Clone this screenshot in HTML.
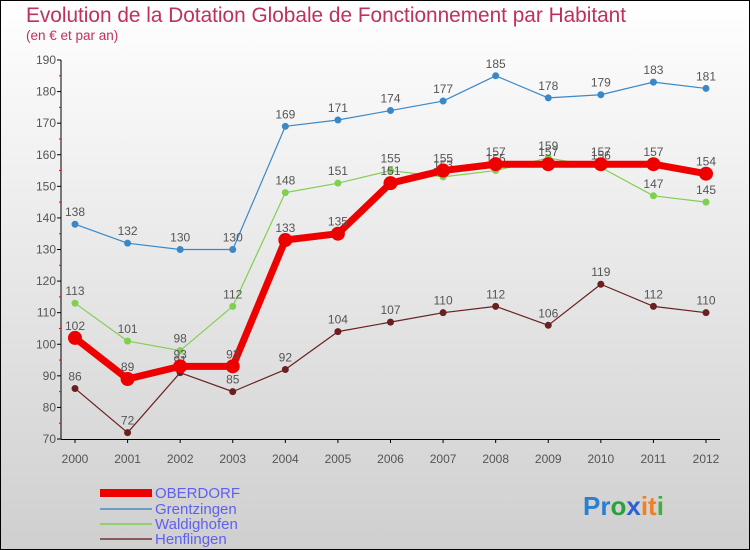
<!DOCTYPE html>
<html><head><meta charset="utf-8"><style>
body{margin:0;width:750px;height:550px;overflow:hidden;font-family:"Liberation Sans",sans-serif}
svg{display:block}
</style></head><body>
<svg id="c" width="750" height="550">
<defs><linearGradient id="bg" x1="0" y1="0" x2="0" y2="1"><stop offset="0" stop-color="#ffffff"/><stop offset="1" stop-color="#cfcfcf"/></linearGradient></defs>
<rect x="0.5" y="0.5" width="749" height="549" fill="url(#bg)" stroke="#000"/>
<text x="26" y="22" font-size="20.8" fill="#c0305a">Evolution de la Dotation Globale de Fonctionnement par Habitant</text>
<text x="26" y="40" font-size="13.5" fill="#c0305a">(en € et par an)</text>
<g id="axes"></g><g id="series"></g>
<g>
<rect x="100" y="489" width="52" height="8" fill="#e00"/>
<text x="155" y="498" font-size="15" fill="#6060ee">OBERDORF</text>
<line x1="100" x2="152" y1="509" y2="509" stroke="#6a9ec8" stroke-width="2"/>
<text x="155" y="514" font-size="15" fill="#6060ee">Grentzingen</text>
<line x1="100" x2="152" y1="524" y2="524" stroke="#90d070" stroke-width="2"/>
<text x="155" y="529" font-size="15" fill="#6060ee">Waldighofen</text>
<line x1="100" x2="152" y1="539" y2="539" stroke="#8a5a5a" stroke-width="2"/>
<text x="155" y="544" font-size="15" fill="#6060ee">Henflingen</text>
</g>
<text x="583" y="515" font-size="26" font-weight="bold"><tspan fill="#2a7fd0">Pr</tspan><tspan fill="#2aa040">o</tspan><tspan fill="#2a60d0">x</tspan><tspan fill="#f08020">it</tspan><tspan fill="#40b040">i</tspan></text>
</svg>
<script>
const years=["2000","2001","2002","2003","2004","2005","2006","2007","2008","2009","2010","2011","2012"];
const yTicks=[70,80,90,100,110,120,130,140,150,160,170,180,190];
const oberdorf=[102,89,93,93,133,135,151,155,157,157,157,157,154];
const grentzingen=[138,132,130,130,169,171,174,177,185,178,179,183,181];
const waldighofen=[113,101,98,112,148,151,155,153,155,159,156,147,145];
const henflingen=[86,72,91,85,92,104,107,110,112,106,119,112,110];
const NS="http://www.w3.org/2000/svg";
function X(i){return 75+i*(706-75)/12;}
function Y(v){return 439-(v-70)*(379/120);}
function mk(t,a,p){const e=document.createElementNS(NS,t);for(const k in a)e.setAttribute(k,a[k]);p.appendChild(e);return e;}
const ax=document.getElementById('axes');
let l=mk('line',{x1:61,x2:61,y1:Y(190),y2:Y(70),stroke:'#000'},ax);


l=mk('line',{x1:61,x2:720,y1:Y(70)+0.5,y2:Y(70)+0.5,stroke:'#000'},ax);


yTicks.forEach(v=>{
 mk('line',{x1:57,x2:61,y1:Y(v),y2:Y(v),stroke:'#000'},ax);
 if(v<190)mk('line',{x1:59,x2:61,y1:Y(v+5),y2:Y(v+5),stroke:'#e00'},ax);
 const t=mk('text',{x:56,y:Y(v)+4,'font-size':12,fill:'#555','text-anchor':'end'},ax);t.textContent=v;
 
 
});
years.forEach((y,i)=>{
 mk('line',{x1:X(i),x2:X(i),y1:Y(70),y2:Y(70)+4,stroke:'#000'},ax);
 const t=mk('text',{x:X(i),y:Y(70)+24,'font-size':12,fill:'#555','text-anchor':'middle'},ax);t.textContent=y;
 
 
});
const sg=document.getElementById('series');
function draw(data,color,w,r,name){
 const g=mk('g',{},sg);
 
 
 mk('polyline',{points:data.map((v,i)=>X(i)+','+Y(v)).join(' '),fill:'none',stroke:color,'stroke-width':w,'stroke-linejoin':'round'},g);
 data.forEach((v,i)=>{
  const c=mk('circle',{cx:X(i),cy:Y(v),r:r,fill:color},g);
  
  
  const t=mk('text',{x:X(i),y:Y(v)-8,'font-size':12,fill:'#555','text-anchor':'middle'},g);t.textContent=v;
  
  
 });
}
draw(henflingen,'#6a2020',1.2,3.5,'henflingen');
draw(waldighofen,'#80d050',1.2,3.5,'waldighofen');
draw(grentzingen,'#3a88c8',1.2,3.5,'grentzingen');
draw(oberdorf,'#ee0000',7,7,'oberdorf');
</script>
</body></html>
